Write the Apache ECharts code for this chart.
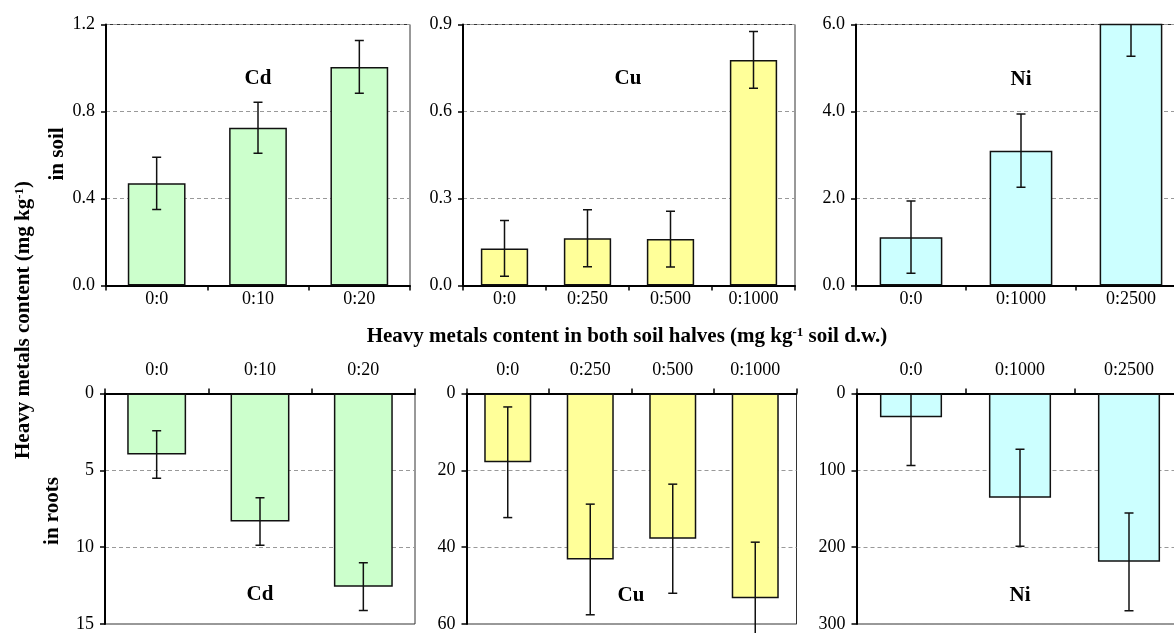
<!DOCTYPE html>
<html>
<head>
<meta charset="utf-8">
<script src="https://cdn.jsdelivr.net/npm/echarts@6/dist/echarts.min.js"></script>
<style>html,body{margin:0;padding:0;background:#fff;overflow:hidden;width:1174px;height:633px;}#c{width:1200px;height:633px;}</style>
</head>
<body>
<div id="c"></div>
<script>
// ---- data ----
const cdCats = ['0:0', '0:10', '0:20'];
const cuCats = ['0:0', '0:250', '0:500', '0:1000'];
const niCats = ['0:0', '0:1000', '0:2500'];

const cdSoil = [0.47, 0.725, 1.005];
const cdSoilErr = [0.12, 0.117, 0.121];
const cuSoil = [0.128, 0.163, 0.160, 0.778];
const cuSoilErr = [0.096, 0.098, 0.096, 0.098];
const niSoil = [1.11, 3.10, 6.10];
const niSoilErr = [0.83, 0.84, 0.83];

const cdRoots = [3.97, 8.33, 12.57];
const cdRootsErr = [1.55, 1.55, 1.55];
const cuRoots = [17.9, 43.2, 37.8, 53.3];
const cuRootsErr = [14.4, 14.4, 14.2, 14.6];
const niRoots = [31.0, 135.7, 219.0];
const niRootsErr = [62.6, 63.0, 63.6];

const yMaxSoil = [1.2, 0.9, 6.0];
const yStepSoil = [0.4, 0.3, 2.0];
const yMaxRoots = [15, 60, 300];
const yStepRoots = [5, 20, 100];

const panelNames = ['Cd', 'Cu', 'Ni'];
const colors = ['#CCFFCC', '#FFFF99', '#CCFFFF'];

// ---- chart ----
const FONT = 'Liberation Serif, Times New Roman, serif';
const chart = echarts.init(document.getElementById('c'), null, {renderer: 'canvas'});

const grids = [
  {left: 106, top: 24.5, width: 304, height: 261},
  {left: 463, top: 24.5, width: 332, height: 261},
  {left: 856, top: 24.5, width: 330, height: 261},
  {left: 105, top: 393.5, width: 310, height: 234},
  {left: 466.5, top: 393.5, width: 330, height: 234},
  {left: 856.5, top: 393.5, width: 327, height: 234}
].map(g => Object.assign({show: true, borderColor: '#333', borderWidth: 1, backgroundColor: 'transparent', containLabel: false}, g));

const cats = [cdCats, cuCats, niCats, cdCats, cuCats, niCats];
const vals = [cdSoil, cuSoil, niSoil, cdRoots, cuRoots, niRoots];
const errs = [cdSoilErr, cuSoilErr, niSoilErr, cdRootsErr, cuRootsErr, niRootsErr];
const clips = [true, true, true, true, false, true];

const xAxes = [], yAxes = [], series = [];
for (let i = 0; i < 6; i++) {
  const top = i < 3;
  const k = i % 3;
  xAxes.push({
    type: 'category', gridIndex: i, data: cats[i],
    position: top ? 'bottom' : 'top',
    axisLine: {show: true, onZero: false, lineStyle: {color: '#000', width: 2}},
    axisTick: {show: true, inside: false, length: 5, lineStyle: {color: '#000', width: 1.5}},
    axisLabel: {color: '#000', fontFamily: FONT, fontSize: 18, margin: top ? 5 : 14},
    splitLine: {show: false}
  });
  const max = top ? yMaxSoil[k] : yMaxRoots[k];
  const step = top ? yStepSoil[k] : yStepRoots[k];
  yAxes.push({
    type: 'value', gridIndex: i, min: 0, max: max, interval: step,
    inverse: !top,
    axisLine: {show: true, onZero: false, lineStyle: {color: '#000', width: 2}},
    axisTick: {show: true, inside: false, length: 5, lineStyle: {color: '#000', width: 1.5}},
    axisLabel: {color: '#000', fontFamily: FONT, fontSize: 18, margin: 11,
      formatter: top ? (v => v.toFixed(1)) : (v => String(v))},
    splitLine: {show: true, lineStyle: {color: '#999', type: [4, 3], width: 1}}
  });
  series.push({
    type: 'bar', xAxisIndex: i, yAxisIndex: i, data: vals[i], barWidth: '57%', clip: true,
    itemStyle: {color: colors[k], borderColor: '#111', borderWidth: 1.5},
    silent: true, animation: false
  });
  const ed = vals[i].map((v, j) => [j, v, errs[i][j]]);
  series.push({
    type: 'custom', xAxisIndex: i, yAxisIndex: i, data: ed, clip: clips[i], z: 5,
    silent: true, animation: false,
    renderItem: function (params, api) {
      const x = api.value(0), v = api.value(1), e = api.value(2);
      const lo = api.coord([x, v - e]);
      const hi = api.coord([x, v + e]);
      const hw = 4.5;
      const st = {stroke: '#111', lineWidth: 1.5};
      return {type: 'group', children: [
        {type: 'line', shape: {x1: lo[0], y1: lo[1], x2: hi[0], y2: hi[1]}, style: st},
        {type: 'line', shape: {x1: lo[0] - hw, y1: lo[1], x2: lo[0] + hw, y2: lo[1]}, style: st},
        {type: 'line', shape: {x1: hi[0] - hw, y1: hi[1], x2: hi[0] + hw, y2: hi[1]}, style: st}
      ]};
    }
  });
}

const boldRich = {
  b: {fontFamily: FONT, fontSize: 21, fontWeight: 'bold', color: '#000'},
  s: {fontFamily: FONT, fontSize: 13, fontWeight: 'bold', color: '#000', padding: [0, 0, 9, 0]}
};

function label(x, y, text) {
  return {type: 'text', x: x, y: y, silent: true, z: 100,
    style: {text: text, fontFamily: FONT, fontSize: 21, fontWeight: 'bold', fill: '#000', align: 'center', verticalAlign: 'middle'}};
}

const graphics = [
  label(258, 79, panelNames[0]), label(628, 79, panelNames[1]), label(1021, 80, panelNames[2]),
  label(260, 595, panelNames[0]), label(631, 596, panelNames[1]), label(1020, 596, panelNames[2]),
  {type: 'text', x: 58, y: 154, rotation: Math.PI / 2, silent: true,
    style: {text: 'in soil', fontFamily: FONT, fontSize: 21, fontWeight: 'bold', fill: '#000', align: 'center', verticalAlign: 'middle'}},
  {type: 'text', x: 53, y: 511, rotation: Math.PI / 2, silent: true,
    style: {text: 'in roots', fontFamily: FONT, fontSize: 21, fontWeight: 'bold', fill: '#000', align: 'center', verticalAlign: 'middle'}},
  {type: 'text', x: 24, y: 320, rotation: Math.PI / 2, silent: true,
    style: {text: '{b|Heavy metals content (mg kg}{s|-1}{b|)}', rich: boldRich, align: 'center', verticalAlign: 'middle'}},
  {type: 'text', x: 627, y: 337, silent: true,
    style: {text: '{b|Heavy metals content in both soil halves (mg kg}{s|-1}{b| soil d.w.)}', rich: boldRich, align: 'center', verticalAlign: 'middle'}}
];

chart.setOption({
  animation: false,
  backgroundColor: '#fff',
  grid: grids,
  xAxis: xAxes,
  yAxis: yAxes,
  series: series,
  graphic: graphics
});
</script>
</body>
</html>
